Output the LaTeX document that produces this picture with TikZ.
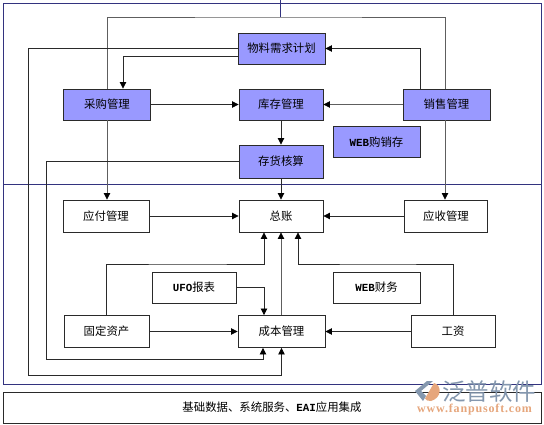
\documentclass[tikz,border=0pt]{standalone}
\usepackage{fontspec}
\usetikzlibrary{arrows.meta}
\setmainfont{Noto Sans CJK SC}
\newfontfamily\latinmono[Scale=0.95]{Liberation Mono}
\newfontfamily\urlfont[LetterSpace=7]{Liberation Serif}
\newcommand{\latinbit}{\latinmono\bfseries}
\definecolor{panel}{HTML}{9999FF}
\definecolor{navyline}{HTML}{33337F}
\definecolor{darkline}{HTML}{2A2A2A}
\definecolor{grayline}{HTML}{5E5E5E}
\definecolor{wmblue}{HTML}{8497AE}
\definecolor{wmorange}{HTML}{E6A67C}
\tikzset{
  x=1pt,y=-1pt,
  pbox/.style={draw=darkline,line width=0.9pt,inner sep=0pt,align=center,font=\fontsize{11.4}{13}\selectfont},
  filledbox/.style={pbox,fill=panel},
  plainbox/.style={pbox,fill=white},
  link/.style={draw=darkline,line width=0.8pt,-{Triangle[length=6.5pt,width=6.5pt,color=black,fill=black]}},
  graylink/.style={link,draw=grayline},
  grayplain/.style={draw=grayline,line width=0.9pt},
  frame/.style={draw=navyline,line width=0.7pt},
  wmark/.style={inner sep=0pt,anchor=west}
}
\begin{document}
\begin{tikzpicture}
\useasboundingbox[fill=white] (0,0) rectangle (544,425);
% frames
\draw[frame] (3.5,3) rectangle (541,384);
\draw[frame] (3.5,184) -- (541,184);
\coordinate (topjoin) at (280.6,17);
\coordinate (topend) at (280.6,0);
\draw[frame] (topend) -- (topjoin);
% nodes
\node[filledbox,minimum width=87pt,minimum height=31pt] (plan) at (281.5,48.5) {物料需求计划};
\node[filledbox,minimum width=87pt,minimum height=31pt] (buy) at (107,104.5) {采购管理};
\node[filledbox,minimum width=84pt,minimum height=31pt] (stock) at (281,104.5) {库存管理};
\node[filledbox,minimum width=84pt,minimum height=33pt] (cost) at (281,161.5) {存货核算};
\node[filledbox,minimum width=87pt,minimum height=31pt] (sale) at (446.5,104.5) {销售管理};
\node[filledbox,minimum width=87pt,minimum height=31pt] (webbuy) at (376.5,142) {{\latinbit WEB}购销存};
\node[plainbox,minimum width=86pt,minimum height=32pt] (pay) at (106,216) {应付管理};
\node[plainbox,minimum width=84pt,minimum height=32pt] (ledger) at (281,216) {总账};
\node[plainbox,minimum width=83pt,minimum height=32pt] (recv) at (446,216) {应收管理};
\node[plainbox,minimum width=84pt,minimum height=31pt] (ufo) at (194,287.5) {{\latinbit UFO}报表};
\node[plainbox,minimum width=87pt,minimum height=31pt] (webfin) at (376.5,287.5) {{\latinbit WEB}财务};
\node[plainbox,minimum width=85pt,minimum height=32pt] (asset) at (106.5,331.5) {固定资产};
\node[plainbox,minimum width=87pt,minimum height=32pt] (costm) at (281.5,331.5) {成本管理};
\node[plainbox,minimum width=84pt,minimum height=32pt] (wage) at (453,331.5) {工资};
\node[plainbox,minimum width=538pt,minimum height=31pt] (base) at (272,407.5) {基础数据、系统服务、{\latinbit EAI}应用集成};
% connectors
\draw[grayplain] (buy.north) |- (topjoin) -| ([xshift=-1.5pt]sale.north);
\draw[graylink] (buy.south) -- (buy.south |- pay.north);
\draw[graylink] ([xshift=-1.5pt]sale.south) -- ([xshift=-1.5pt]sale.south |- recv.north);
\draw[link] ([yshift=-7.5pt]plan.west) -| ([xshift=16pt]buy.north);
\draw[link] ([xshift=-26.5pt]sale.north) |- (plan.east);
\draw[link] (buy.east) -- (stock.west);
\draw[graylink] (sale.west) -- (stock.east);
\draw[link] (stock.south) -- (cost.north);
\draw[link] (cost.south) -- (ledger.north);
\draw[link] (pay.east) -- (ledger.west);
\draw[link] (recv.west) -- (ledger.east);
\draw[link] (asset.east) -- (costm.west);
\draw[link] (wage.west) -- (costm.east);
\draw[link] (ufo.east) -| ([xshift=-17.5pt]costm.north);
\draw[graylink] (costm.north -| ledger.south) -- (ledger.south);
\draw[link] (asset.north) |- (190,264) -| ([xshift=-17pt]ledger.south);
\draw[link] (wage.north) |- (380,264) -| ([xshift=17pt]ledger.south);
\draw[link] (cost.west) -| (46,359) -| ([xshift=-18.5pt]costm.south);
\draw[link] (plan.west) -| (28,375) -| (costm.south);
% watermark
\fill[wmorange] (434,383) .. controls (442,385) and (442,398) .. (431,401) .. controls (428,401.5) and (426,400) .. (425,398.5) -- cycle;
\fill[wmblue] (427,381) -- (415,391) -- (423,401) -- (426,396) -- (421,391) -- (433,381) -- cycle;
\node[wmark,text=wmblue,font=\fontsize{23.5}{24}\selectfont] (wmcn) at (442,391.5) {泛普软件};
\node[wmark,text=wmorange,font=\fontsize{12}{12}\urlfont\bfseries] (wmurl) at (417,410) {www.fanpusoft.com};
\end{tikzpicture}
\end{document}
